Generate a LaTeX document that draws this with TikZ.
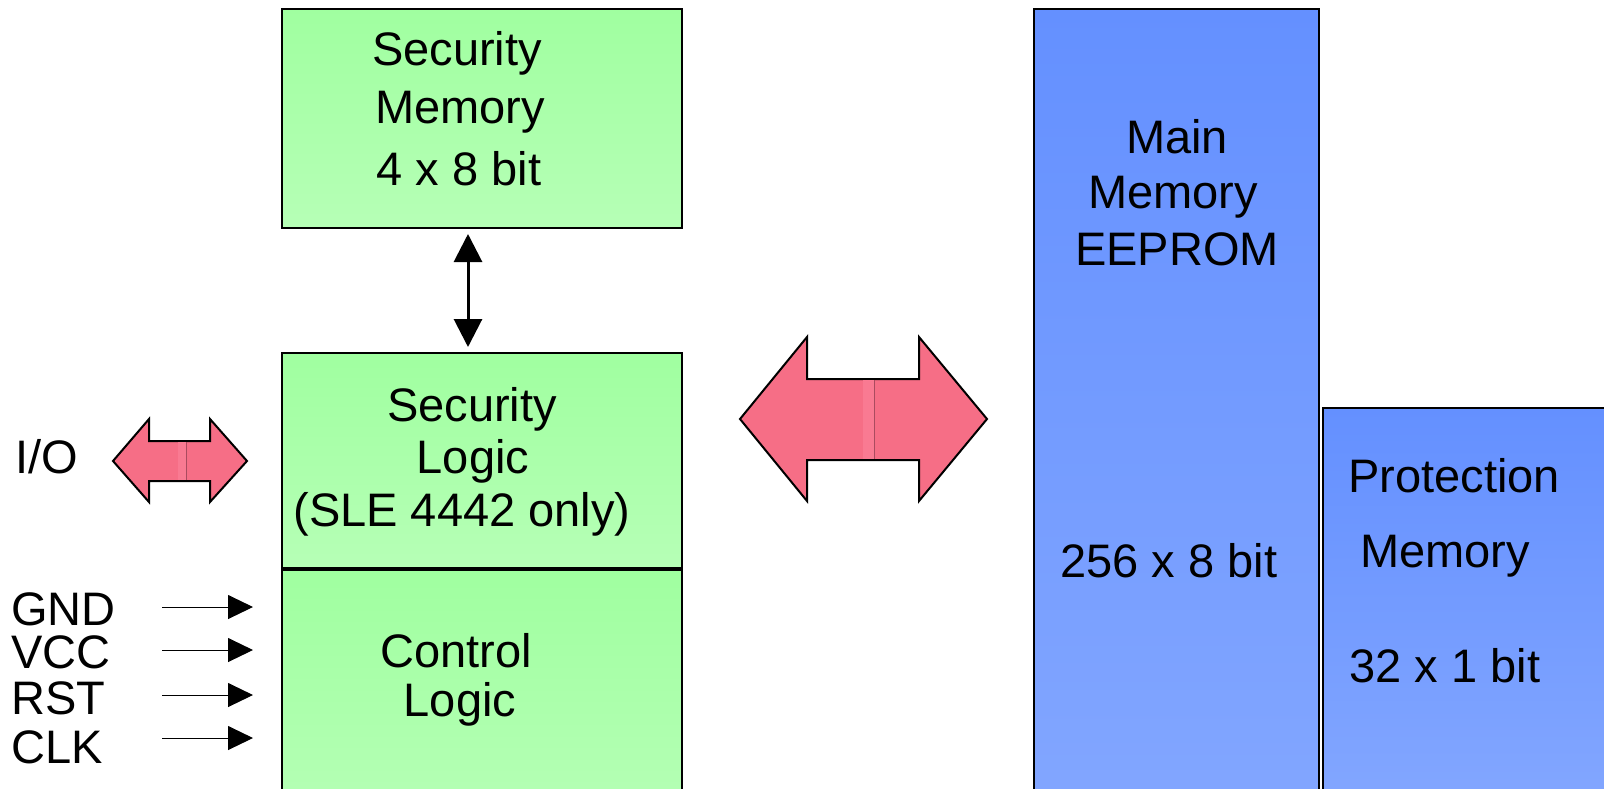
\documentclass[tikz,border=0pt]{standalone}
\usepackage{fontspec}
\setmainfont{Liberation Sans}
\usetikzlibrary{arrows.meta}
\definecolor{gtop}{RGB}{160,255,160}
\definecolor{gbot}{RGB}{182,255,182}
\definecolor{btop}{RGB}{100,144,255}
\definecolor{bbot}{RGB}{130,166,255}
\definecolor{pinkfill}{RGB}{246,110,134}
\definecolor{pinkband}{RGB}{249,122,146}
\definecolor{pinkseam}{RGB}{170,75,95}
\begin{document}
\begin{tikzpicture}[x=0.5pt,y=-0.5pt,
  box/.style={draw=black, line width=1pt, inner sep=0pt, anchor=north west, rectangle},
  gbox/.style={box, top color=gtop, bottom color=gbot},
  bbox/.style={box, top color=btop, bottom color=bbot},
  lbl/.style={font=\fontsize{23.5}{28}\selectfont, inner sep=0pt, anchor=base},
  pin/.style={font=\fontsize{23.5}{28}\selectfont, inner sep=0pt, anchor=base west},
  bigarrow/.style={fill=pinkfill, draw=black, line width=1pt, line join=miter},
  sigarrow/.style={line width=0.5pt, -{Triangle[length=12.5pt,width=12pt]}},
  dblarrow/.style={line width=1.5pt, {Triangle[length=14pt,width=14pt]}-{Triangle[length=14pt,width=14pt]}}]
\useasboundingbox (0,0) rectangle (1604,788);
\begin{scope}
\clip (0,0) rectangle (1604,788);
% boxes
\node[gbox, minimum width=200pt, minimum height=109.5pt] (secmem) at (281,8) {};
\node[gbox, minimum width=200pt, minimum height=107.5pt] (seclogic) at (281,352) {};
\node[gbox, minimum width=200pt, minimum height=126pt] (ctrl) at (281,569) {};
\node[bbox, minimum width=142.5pt, minimum height=400pt] (mainmem) at (1033,8) {};
\node[bbox, minimum width=149pt, minimum height=195pt] (protmem) at (1322,407) {};
% texts
\node[lbl] (sm1) at (457,65) {Security};
\node[lbl] (sm2) at (460,123) {Memory};
\node[lbl] (sm3) at (459,185) {4 x 8 bit};
\node[lbl] (sl1) at (472,421) {Security};
\node[lbl] (sl2) at (473,473) {Logic};
\node[lbl] (sl3) at (462,526) {(SLE 4442 only)};
\node[lbl] (cl1) at (456,667) {Control};
\node[lbl] (cl2) at (460,716) {Logic};
\node[lbl] (mm1) at (1177,153) {Main};
\node[lbl] (mm2) at (1173,208) {Memory};
\node[lbl] (mm3) at (1177,265) {EEPROM};
\node[lbl] (mm4) at (1169,577) {256 x 8 bit};
\node[lbl] (pm1) at (1454,492) {Protection};
\node[lbl] (pm2) at (1445,567) {Memory};
\node[lbl] (pm3) at (1445,682) {32 x 1 bit};
\node[lbl] (io) at (47,473) {I/O};
\node[pin] (gnd) at (11,625) {GND};
\node[pin] (vcc) at (11,668) {VCC};
\node[pin] (rst) at (11,714) {RST};
\node[pin] (clk) at (11,763) {CLK};
% vertical double arrow
\draw[dblarrow, shorten <=2.5pt, shorten >=2.5pt] ([xshift=-7pt]secmem.south) -- ([xshift=-7pt]seclogic.north);
% signal arrows
\coordinate (gs) at (162,607); \coordinate (ge) at (253,607);
\coordinate (vs) at (162,650); \coordinate (ve) at (253,650);
\coordinate (rs) at (162,695); \coordinate (re) at (253,695);
\coordinate (cs) at (162,738); \coordinate (ce) at (253,738);
\draw[sigarrow] (gs) -- (ge);
\draw[sigarrow] (vs) -- (ve);
\draw[sigarrow] (rs) -- (re);
\draw[sigarrow] (cs) -- (ce);
% big bus arrow
\draw[bigarrow] (740,419) -- (807,337) -- (807,379) -- (919,379) -- (919,337) -- (987,419)
  -- (919,501) -- (919,460) -- (807,460) -- (807,501) -- cycle;
\fill[pinkband] (863,380) rectangle (874,459);
\draw[pinkseam, line width=0.5pt] (874,380) -- (874,459);
% small I/O arrow
\draw[bigarrow] (113,461) -- (149,419) -- (149,441) -- (210,441) -- (210,419) -- (247,461)
  -- (210,502) -- (210,481) -- (149,481) -- (149,502) -- cycle;
\fill[pinkband] (178,442) rectangle (186,480);
\draw[pinkseam, line width=0.4pt] (186,442) -- (186,480);
\end{scope}
\end{tikzpicture}
\end{document}
